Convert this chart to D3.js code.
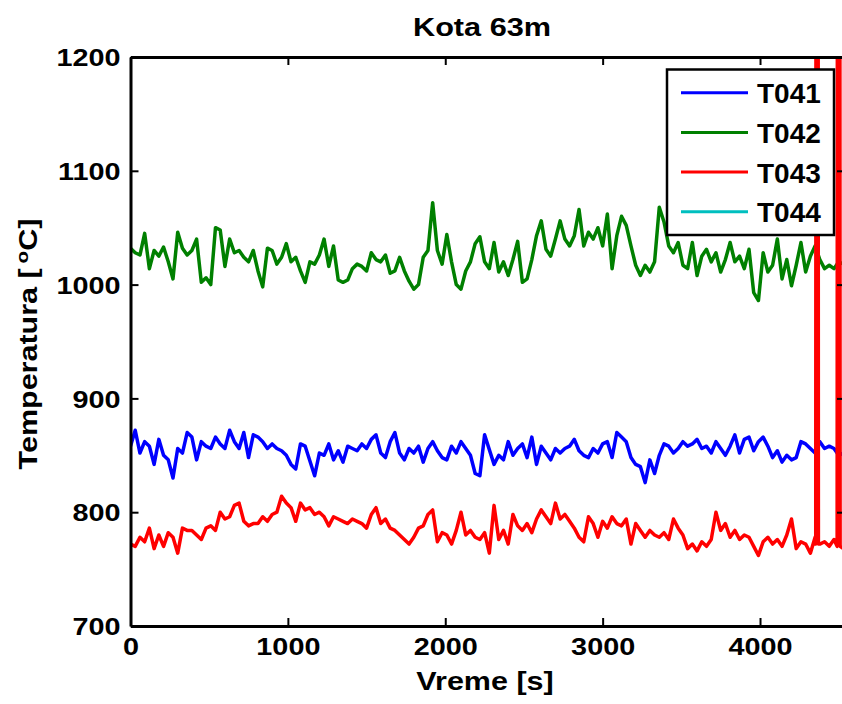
<!DOCTYPE html>
<html><head><meta charset="utf-8">
<script src="https://cdn.jsdelivr.net/npm/d3@7"></script>
<style>
body{margin:0;background:#fff;}
text{font-family:"Liberation Sans",Arial,Helvetica,sans-serif;font-weight:bold;fill:#000;}
</style>
</head><body>
<svg id="chart" width="842" height="704"></svg>
<script>
// ---------------- data ----------------
const chartTitle = "Kota 63m";
const xLabel = "Vreme [s]";
const seriesNames = ["T041", "T042", "T043", "T044"];
const seriesColors = ["#0000ff", "#008000", "#ff0000", "#00bfbf"];
const timeStep = 30; // s between samples
const xTicks = [0, 1000, 2000, 3000, 4000];
const yTicks = [700, 800, 900, 1000, 1100, 1200];
const xDomain = [0, 4540];
const yDomain = [700, 1200];

const t041 = [858,872,852,862,858,842,864,850,846,830, 856,852,870,866,846,862,858,856,866,860,
  856,872,862,856,870,848,868,866,862,856, 860,856,854,850,842,838,860,858,845,832,
  852,850,860,846,854,844,858,856,854,860, 856,864,868,852,848,862,870,852,846,856,
  852,858,844,856,862,854,848,846,858,852, 862,856,850,834,832,868,
  855,842,850,846,862,850,856,860,848,866, 842,858,852,846,856,852,856,858,864,854,
  850,848,856,852,860,862,848,870,866,862, 848,842,840,826,846,834,850,860,858,852,
  856,862,858,860,864,856,858,852,862,856, 850,858,868,852,864,866,854,862,866,858,
  848,854,844,850,846,848,862,860,856,852, 862,856,858,856,850,852,852];

const t042 = [1032,1028,1026,1045,1014,1030,1025,1033,1020,1005, 1046,1032,1026,1030,1040,1002,1006,1000,1050,1048,
  1016,1040,1028,1030,1024,1020,1030,1012,998,1032, 1030,1018,1024,1036,1020,1024,1012,1002,1020,1018,
  1026,1040,1016,1034,1004,1002,1004,1014,1018,1016, 1012,1028,1022,1020,1026,1010,1012,1024,1012,1003,
  996,1000,1024,1030,1072,1030,1018,1044,1020,1000, 996,1012,1020,1036,1042,1020,
  1014,1037,1011,1020,1008,1022,1038,1002,1005,1022, 1043,1056,1031,1025,1040,1056,1040,1034,1043,1066,
  1034,1046,1040,1050,1034,1062,1014,1043,1060,1052, 1034,1017,1008,1017,1011,1020,1068,1055,1034,1028,
  1037,1017,1014,1037,1008,1025,1031,1020,1028,1011, 1022,1037,1020,1025,1014,1031,993,986,1028,1011,
  1017,1040,1005,1022,999,1017,1037,1011,1025,1034, 1022,1014,1017,1014,1020,1018,1018];

const t043 = [772,770,778,774,786,768,780,770,782,778, 764,786,784,784,780,776,786,788,784,800,
  794,796,806,808,792,788,790,790,796,792, 798,800,814,808,804,792,808,802,804,798,
  800,796,788,796,794,792,790,794,792,790, 786,798,804,790,794,786,784,780,776,772,
  778,786,788,798,802,774,782,780,772,784, 800,780,784,778,776,782,
  764,806,776,784,772,798,788,784,790,782, 794,802,796,790,808,794,798,792,786,778,
  774,796,790,778,792,786,796,790,788,794, 772,790,784,778,784,780,778,782,776,794,
  786,780,768,772,766,774,770,776,800,784, 790,778,784,776,780,778,770,762,774,778,
  772,776,770,780,794,768,774,772,764,778, 772,774,770,776,1450,768,770];
// extra irregular samples of T043 (sensor spikes going off-scale)
const t043SpikeTime  = [4354, 4356, 4369, 4371, 4490, 4492, 4507, 4509];
const t043SpikeValue = [772, 1450, 1450, 772, 770, 1450, 1450, 770];

const t044 = []; // no visible samples in the plotted range

// ---------------- build series ----------------
function gridSeries(vals){ return vals.map((v,i)=>({t:i*timeStep, v:v})); }
const s043 = gridSeries(t043).concat(t043SpikeTime.map((t,i)=>({t:t, v:t043SpikeValue[i]})))
  .sort((a,b)=>a.t-b.t);
const seriesData = [gridSeries(t041), gridSeries(t042), s043, gridSeries(t044)];

// ---------------- layout ----------------
const svg = d3.select("#chart");
const L = 130.5, R = 845, T = 57, B = 626;
const x = d3.scaleLinear().domain(xDomain).range([L, R]);
const y = d3.scaleLinear().domain(yDomain).range([B, T]);
const SX = 1.2; // horizontal text stretch

svg.append("defs").append("clipPath").attr("id","clip")
  .append("rect").attr("x",L).attr("y",T).attr("width",R-L).attr("height",B-T);

// lines
const line = d3.line().x(d=>x(d.t)).y(d=>y(d.v));
const gLines = svg.append("g").attr("clip-path","url(#clip)");
seriesData.forEach((d,i)=>{
  if(!d.length) return;
  gLines.append("path").datum(d).attr("d",line)
    .attr("fill","none").attr("stroke",seriesColors[i])
    .attr("stroke-width",3.5).attr("stroke-linejoin","round");
});

// axes (inward ticks, MATLAB style)
const tk = 8;
const axB = svg.append("g").attr("transform",`translate(0,${B})`)
  .call(d3.axisBottom(x).tickValues(xTicks).tickSizeInner(-tk).tickSizeOuter(0).tickFormat(d3.format("d")));
const axT = svg.append("g").attr("transform",`translate(0,${T})`)
  .call(d3.axisTop(x).tickValues(xTicks).tickSizeInner(-tk).tickSizeOuter(0).tickFormat(""));
const axL = svg.append("g").attr("transform",`translate(${L},0)`)
  .call(d3.axisLeft(y).tickValues(yTicks).tickSizeInner(-tk).tickSizeOuter(0).tickFormat(d3.format("d")));
const axR = svg.append("g").attr("transform",`translate(${R},0)`)
  .call(d3.axisRight(y).tickValues(yTicks).tickSizeInner(-tk).tickSizeOuter(0).tickFormat(""));
[axB,axT,axL,axR].forEach(a=>{
  a.select(".domain").attr("stroke","#000").attr("stroke-width",3);
  a.selectAll(".tick line").attr("stroke","#000").attr("stroke-width",2);
  a.attr("font-family",null).attr("font-size",null);
});
axB.selectAll(".tick text").attr("y",0).attr("dy",0)
  .attr("transform",`translate(0,29) scale(${SX},1)`)
  .style("font-size","24px").attr("fill","#000");
axL.selectAll(".tick text").attr("x",0).attr("dy","0.36em")
  .attr("transform",`translate(-10,0) scale(${SX},1)`)
  .style("font-size","24px").attr("fill","#000");

// titles
svg.append("text").attr("text-anchor","middle")
  .attr("transform",`translate(482,36) scale(1.18,1)`)
  .style("font-size","26px").text(chartTitle);
svg.append("text").attr("text-anchor","middle")
  .attr("transform",`translate(485,690) scale(1.22,1)`)
  .style("font-size","25px").text(xLabel);
const yl = svg.append("text").attr("text-anchor","middle")
  .attr("transform",`translate(37,344) rotate(-90) scale(1.22,1)`)
  .style("font-size","25px");
yl.append("tspan").text("Temperatura [");
yl.append("tspan").attr("dx",4).attr("dy",-9).style("font-size","17px").text("o");
yl.append("tspan").attr("dy",9).text("C]");

// legend
const lg = svg.append("g");
lg.append("rect").attr("x",667).attr("y",69.5).attr("width",167).attr("height",165.5)
  .attr("fill","#fff").attr("stroke","#000").attr("stroke-width",2.5);
seriesNames.forEach((n,i)=>{
  const yy = 92.7 + i*39.7;
  lg.append("line").attr("x1",681).attr("x2",748).attr("y1",yy).attr("y2",yy)
    .attr("stroke",seriesColors[i]).attr("stroke-width",3);
  lg.append("text").attr("x",757).attr("y",yy+10.5).style("font-size","28px").text(n);
});
</script>
</body></html>
